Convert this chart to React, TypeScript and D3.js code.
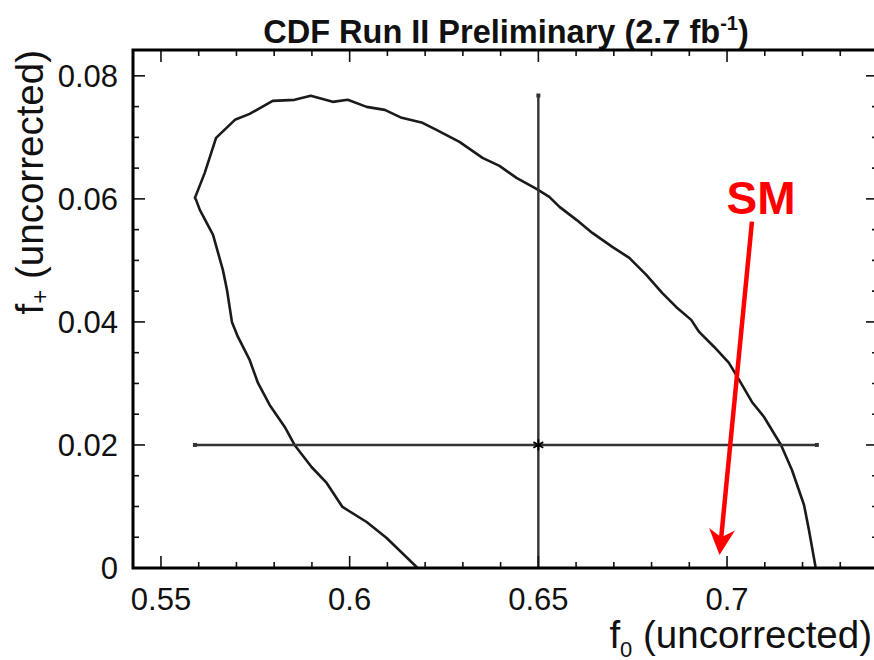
import React from "react";
import * as d3 from "d3";

// ---- data ----
const contourF0 = [
  0.618, 0.6098, 0.6045, 0.5981, 0.5939, 0.5899, 0.5854, 0.5828, 0.5788, 0.5757,
  0.5735, 0.5704, 0.5688, 0.5675, 0.5664, 0.5638, 0.5603, 0.5593, 0.559, 0.5616,
  0.5646, 0.5696, 0.5735, 0.5796, 0.5854, 0.5897, 0.5955, 0.5995, 0.6045, 0.6093,
  0.6138, 0.6193, 0.623, 0.6291, 0.6352, 0.6397, 0.6442, 0.6495, 0.6529, 0.6556,
  0.6601, 0.6643, 0.6696, 0.6741, 0.6786, 0.6828, 0.6865, 0.6905, 0.6926, 0.6966,
  0.7005, 0.7032, 0.7066, 0.7098, 0.7143, 0.7172, 0.7204, 0.7217, 0.7235,
];
const contourFplus = [
  0.0, 0.00488, 0.00748, 0.00992, 0.01382, 0.01642, 0.02, 0.02293, 0.0265, 0.03008,
  0.03382, 0.03756, 0.04, 0.0452, 0.04846, 0.05415, 0.05821, 0.05984, 0.06016, 0.06423,
  0.06992, 0.07285, 0.07382, 0.07593, 0.0761, 0.07675, 0.07577, 0.0761, 0.07496, 0.07447,
  0.07317, 0.07236, 0.07122, 0.06927, 0.06667, 0.06537, 0.06341, 0.06163, 0.06033, 0.0587,
  0.05659, 0.05447, 0.0522, 0.05041, 0.04764, 0.04472, 0.04244, 0.04033, 0.03837, 0.03593,
  0.03333, 0.03057, 0.02699, 0.02455, 0.02, 0.01593, 0.01024, 0.00618, 0.0,
];

const centralF0 = 0.65;
const centralFplus = 0.02;
const f0ErrRange = [0.559, 0.7238];
const fplusErrRange = [-0.0368, 0.0768];

const smArrowFrom = [0.7066, 0.0563];
const smArrowTo = [0.698, 0.0021];
const smLabel = "SM";

const xMajorTicks = [0.55, 0.6, 0.65, 0.7];
const xTickLabels = ["0.55", "0.6", "0.65", "0.7"];
const yMajorTicks = [0, 0.02, 0.04, 0.06, 0.08];
const yTickLabels = ["0", "0.02", "0.04", "0.06", "0.08"];

const titleMain = "CDF Run II Preliminary (2.7 fb";
const titleSup = "-1";
const titleEnd = ")";

const W = 874;
const H = 660;
const FONT = "'Liberation Sans', Arial, Helvetica, sans-serif";

export default function App() {
  const left = 133, right = 878, top = 50, bottom = 568;
  const x = d3.scaleLinear().domain([0.54259, 0.74]).range([left, right]);
  const y = d3.scaleLinear().domain([0, 0.0842]).range([bottom, top]);

  const pts = contourF0.map((v, i) => [v, contourFplus[i]] as [number, number]);
  const line = d3
    .line<[number, number]>()
    .x((d) => x(d[0]))
    .y((d) => y(d[1]));

  const xMinor = d3.range(55, 74).map((i) => i / 100);
  const yMinor = d3.range(0, 17).map((i) => i * 0.005);

  const major = 12, minor = 6;

  // arrow geometry
  const ax0 = x(smArrowFrom[0]), ay0 = y(smArrowFrom[1]);
  const ax1 = x(smArrowTo[0]), ay1 = y(smArrowTo[1]);
  const len = Math.hypot(ax1 - ax0, ay1 - ay0);
  const ux = (ax1 - ax0) / len, uy = (ay1 - ay0) / len;
  const px = -uy, py = ux;
  const headLen = 26, headHalf = 13, notch = 8;
  const bx = ax1 - ux * headLen, by = ay1 - uy * headLen;
  const head = [
    [ax1, ay1],
    [bx + px * headHalf, by + py * headHalf],
    [ax1 - ux * (headLen - notch), ay1 - uy * (headLen - notch)],
    [bx - px * headHalf, by - py * headHalf],
  ];

  const star = d3.symbol().type(d3.symbolAsterisk ?? d3.symbolCross).size(90)();

  return (
    <div style={{ position: "absolute", left: 0, top: 0 }}>
      <svg width={W} height={H} style={{ display: "block", background: "#fff" }} fontFamily={FONT}>
        <defs>
          <clipPath id="plotclip">
            <rect x={left} y={top} width={right - left} height={bottom - top} />
          </clipPath>
        </defs>

        {/* title */}
        <text x={506} y={43} textAnchor="middle" fontSize={32.5} fontWeight="bold" fill="#111">
          {titleMain}
          <tspan fontSize={20} dy={-13}>{titleSup}</tspan>
          <tspan fontSize={32.5} dy={13}>{titleEnd}</tspan>
        </text>

        {/* data */}
        <g clipPath="url(#plotclip)">
          <path d={line(pts) || ""} fill="none" stroke="#1a1a1a" strokeWidth={2.6} strokeLinejoin="round" />
          <line x1={x(f0ErrRange[0])} x2={x(f0ErrRange[1])} y1={y(centralFplus)} y2={y(centralFplus)} stroke="#333" strokeWidth={2.4} />
          <line x1={x(centralF0)} x2={x(centralF0)} y1={y(fplusErrRange[0])} y2={y(fplusErrRange[1])} stroke="#333" strokeWidth={2.4} />
          <rect x={x(f0ErrRange[0]) - 2} y={y(centralFplus) - 2} width={4} height={4} fill="#333" />
          <rect x={x(f0ErrRange[1]) - 2} y={y(centralFplus) - 2} width={4} height={4} fill="#333" />
          <rect x={x(centralF0) - 2} y={y(fplusErrRange[1]) - 2} width={4} height={4} fill="#333" />
          <path d={star || ""} transform={`translate(${x(centralF0)},${y(centralFplus)})`} fill="#000" stroke="#000" strokeWidth={1.8} />
        </g>

        {/* ticks */}
        <g stroke="#111" strokeWidth={1.6}>
          {xMinor.map((t) => {
            const isMaj = xMajorTicks.some((m) => Math.abs(m - t) < 1e-6);
            const l = isMaj ? major : minor;
            return (
              <g key={"x" + t}>
                <line x1={x(t)} x2={x(t)} y1={bottom} y2={bottom - l} />
                <line x1={x(t)} x2={x(t)} y1={top} y2={top + l} />
              </g>
            );
          })}
          {yMinor.map((t) => {
            const isMaj = yMajorTicks.some((m) => Math.abs(m - t) < 1e-6);
            const l = isMaj ? major : minor;
            return (
              <g key={"y" + t}>
                <line x1={left} x2={left + l} y1={y(t)} y2={y(t)} />
                <line x1={right} x2={right - l} y1={y(t)} y2={y(t)} />
              </g>
            );
          })}
        </g>

        {/* frame */}
        <rect x={left} y={top} width={right - left} height={bottom - top} fill="none" stroke="#000" strokeWidth={3} />

        {/* tick labels */}
        {xMajorTicks.map((t, i) => (
          <text key={"xl" + t} x={x(t)} y={610} textAnchor="middle" fontSize={31} fill="#111">
            {xTickLabels[i]}
          </text>
        ))}
        {yMajorTicks.map((t, i) => (
          <text key={"yl" + t} x={118} y={y(t) + 11} textAnchor="end" fontSize={31} fill="#111">
            {yTickLabels[i]}
          </text>
        ))}

        {/* axis labels */}
        <text x={872} y={648} textAnchor="end" fontSize={38.5} fill="#111">
          f
          <tspan fontSize={22} dy={9}>0</tspan>
          <tspan fontSize={38.5} dy={-9}> (uncorrected)</tspan>
        </text>
        <text transform="translate(43,50) rotate(-90)" textAnchor="end" fontSize={38.5} fill="#111">
          f
          <tspan fontSize={24} dy={5}>+</tspan>
          <tspan fontSize={38.5} dy={-5}> (uncorrected)</tspan>
        </text>

        {/* SM arrow */}
        <line x1={ax0} y1={ay0} x2={ax1 - ux * (headLen - notch)} y2={ay1 - uy * (headLen - notch)} stroke="#ff0000" strokeWidth={4.5} />
        <path d={"M" + head.map((p) => p.join(",")).join("L") + "Z"} fill="#ff0000" />
        <text x={761} y={214} textAnchor="middle" fontSize={46} fontWeight="bold" fill="#ff0000">
          {smLabel}
        </text>
      </svg>
    </div>
  );
}
